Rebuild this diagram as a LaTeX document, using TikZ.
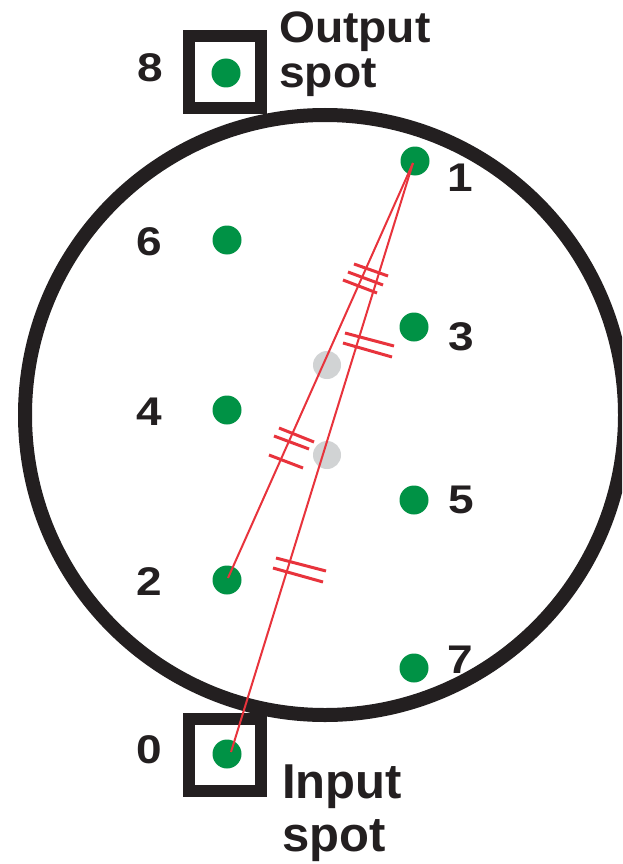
\documentclass[tikz,border=0pt]{standalone}
\usepackage{fontspec}
\setmainfont{Liberation Sans}
\newfontfamily\numfont[FakeStretch=1.15]{Liberation Sans Bold}
\newfontfamily\capfont[FakeStretch=1.05]{Liberation Sans Bold}
\newfontfamily\incapfont{Liberation Sans Bold}
\definecolor{spotgreen}{RGB}{0,146,69}
\definecolor{rayred}{RGB}{232,51,60}
\definecolor{ghost}{RGB}{209,211,212}
\definecolor{ink}{RGB}{35,31,32}
\tikzset{
  dot/.style={circle,fill=spotgreen,minimum size=29pt,inner sep=0pt},
  ghostdot/.style={circle,fill=ghost,minimum size=28pt,inner sep=0pt},
  ray/.style={draw=rayred,line width=2pt},
  tick/.style={draw=rayred,line width=3pt},
  frame/.style={draw=ink,line width=12pt,minimum size=72pt,inner sep=0pt},
  num/.style={font=\numfont\fontsize{40}{40}\selectfont,text=ink,inner sep=0pt},
  caption/.style={font=\capfont\fontsize{44}{45}\selectfont,text=ink,inner sep=0pt,align=left},
}
\begin{document}
\begin{tikzpicture}[x=1pt,y=-1pt]
\useasboundingbox (0,0) rectangle (622,864);
\clip (0,0) rectangle (622,864);
\fill[white] (0,0) rectangle (622,864);
% big circle
\draw[ink,line width=14pt] (325,415) circle[radius=300];
% boxes
\node[frame] (outbox) at (225,72) {};
\node[frame] (inbox) at (225,755) {};
% ghost dots
\node[ghostdot] (g1) at (327,365) {};
\node[ghostdot] (g2) at (327,455) {};
% green dots
\node[dot] (d8) at (226,73) {};
\node[dot] (d1) at (415,161) {};
\node[dot] (d6) at (227,240) {};
\node[dot] (d3) at (414,327) {};
\node[dot] (d4) at (227,410) {};
\node[dot] (d5) at (414,500) {};
\node[dot] (d2) at (227,580) {};
\node[dot] (d7) at (414,668) {};
\node[dot] (d0) at (227,754) {};
% ray end points
\coordinate (r1) at (413,163);
\coordinate (r2) at (228,578);
\coordinate (r0) at (231,752);
\draw[ray] (r1) -- (r2);
\draw[ray] (r1) -- (r0);
% ticks
\draw[tick] (354,264) -- (388,276);
\draw[tick] (348,272) -- (383,285);
\draw[tick] (343,280) -- (377,293);
\draw[tick] (345,333) -- (394,346);
\draw[tick] (343,343) -- (392,357);
\draw[tick] (279,428) -- (314,442);
\draw[tick] (274,436) -- (309,449);
\draw[tick] (269,455) -- (303,468);
\draw[tick] (276,558) -- (326,571);
\draw[tick] (273,568) -- (323,582);
% numbers
\node[num] (n8) at (150,68) {8};
\node[num] (n6) at (149,242) {6};
\node[num] (n4) at (149,412) {4};
\node[num] (n2) at (149,582) {2};
\node[num] (n0) at (149,750) {0};
\node[num] (n1) at (460,178) {1};
\node[num] (n3) at (461,337) {3};
\node[num] (n5) at (461,500) {5};
\node[num] (n7) at (460,660) {7};
% captions
\node[caption,anchor=north west] (outcap) at (279,12) {Output\\spot};
\node[caption,anchor=north west,font=\incapfont\fontsize{49}{53}\selectfont] (incap) at (282,765) {Input\\spot};
\end{tikzpicture}
\end{document}
